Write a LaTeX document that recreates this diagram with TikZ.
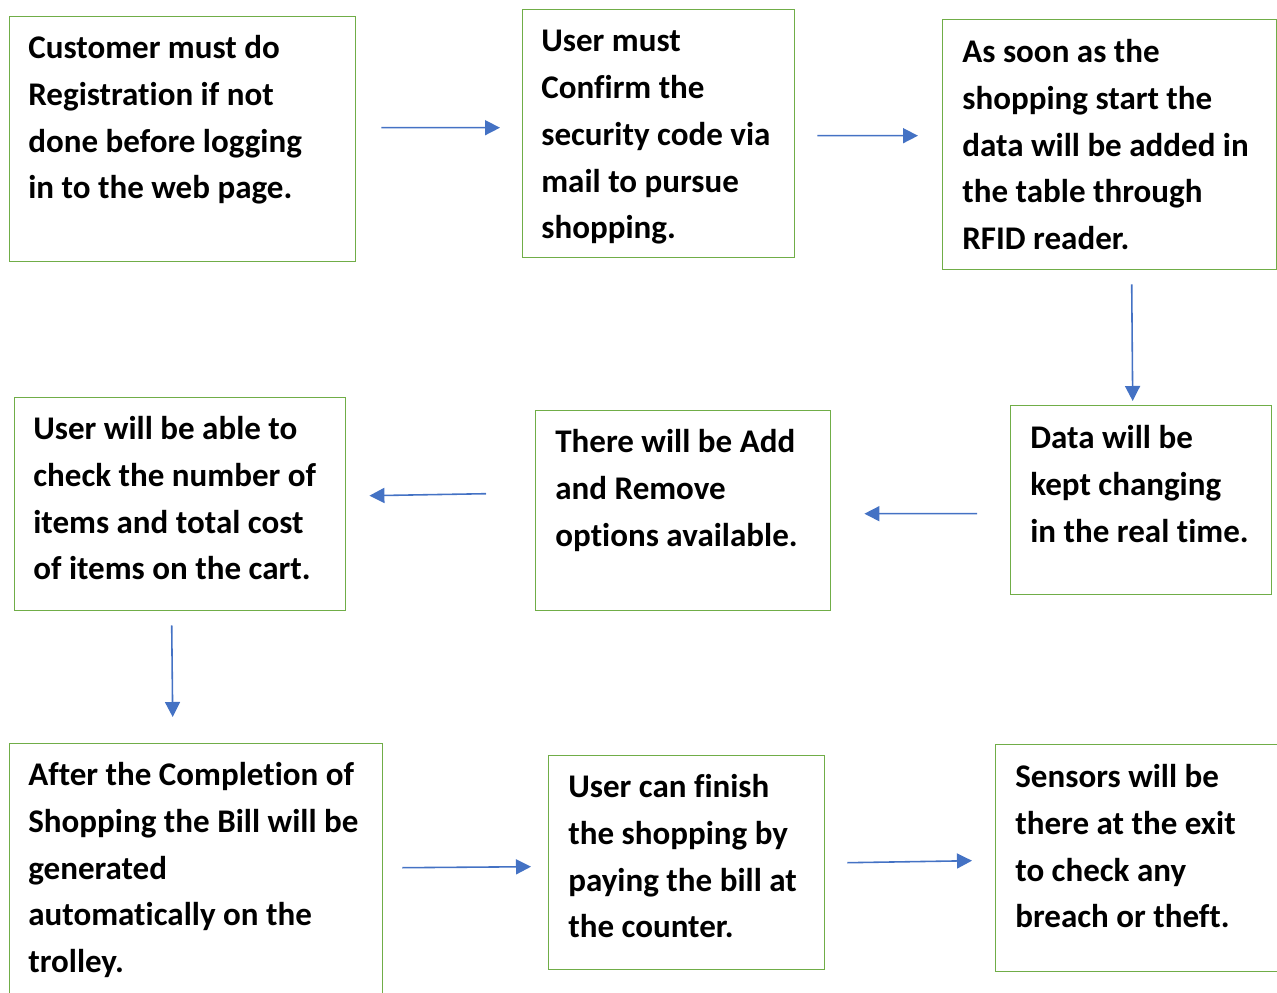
\documentclass[tikz,border=0pt]{standalone}
\usepackage{fontspec}
\setmainfont{Carlito}[Ligatures=NoCommon]
\usepackage{xcolor}
\usetikzlibrary{arrows.meta, positioning}

\definecolor{boxgreen}{HTML}{70AD47}
\definecolor{flowblue}{HTML}{4472C4}

\begin{document}
\begin{tikzpicture}[
    box/.style={rectangle, draw=boxgreen, line width=0.8pt, anchor=north west, inner sep=0pt},
    txt/.style={anchor=north west, inner sep=0pt, align=left,
        font={\fontsize{18.8pt}{26.6pt}\selectfont\bfseries}},
    flow/.style={draw=flowblue, line width=0.9pt, -{Triangle[length=0.30cm, width=0.30cm]}}
]
    \useasboundingbox (0,0) rectangle (25.54,-19.86);
    \clip (0,0) rectangle (25.54,-19.86);

    % first row
    \node[box, minimum width=6.92cm, minimum height=4.90cm] (reg) at (0.18,-0.32) {};
    \node[txt] (regtxt) at (0.56,-0.70) {Customer must do\\Registration if not\\done before logging\\in to the web page.};
    \node[box, minimum width=5.44cm, minimum height=4.96cm] (conf) at (10.44,-0.18) {};
    \node[txt] (conftxt) at (10.82,-0.60) {User must\\Confirm the\\security code via\\mail to pursue\\shopping.};
    \node[box, minimum width=6.68cm, minimum height=5.00cm] (rfid) at (18.84,-0.38) {};
    \node[txt] (rfidtxt) at (19.24,-0.78) {As soon as the\\shopping start the\\data will be added in\\the table through\\RFID reader.};

    % second row
    \node[box, minimum width=5.22cm, minimum height=3.78cm] (live) at (20.20,-8.10) {};
    \node[txt] (livetxt) at (20.60,-8.50) {Data will be\\kept changing\\in the real time.};
    \node[box, minimum width=5.90cm, minimum height=4.00cm] (edit) at (10.70,-8.20) {};
    \node[txt] (edittxt) at (11.10,-8.58) {There will be Add\\and Remove\\options available.};
    \node[box, minimum width=6.62cm, minimum height=4.26cm] (cost) at (0.28,-7.94) {};
    \node[txt] (costtxt) at (0.66,-8.32) {User will be able to\\check the number of\\items and total cost\\of items on the cart.};

    % third row
    \node[box, minimum width=7.46cm, minimum height=5.14cm] (bill) at (0.18,-14.86) {};
    \node[txt] (billtxt) at (0.56,-15.24) {After the Completion of\\Shopping the Bill will be\\generated\\automatically on the\\trolley.};
    \node[box, minimum width=5.52cm, minimum height=4.28cm] (pay) at (10.96,-15.10) {};
    \node[txt] (paytxt) at (11.36,-15.48) {User can finish\\the shopping by\\paying the bill at\\the counter.};
    \node[box, minimum width=5.90cm, minimum height=4.54cm] (exit) at (19.90,-14.88) {};
    \node[txt] (exittxt) at (20.30,-15.28) {Sensors will be\\there at the exit\\to check any\\breach or theft.};

    \draw[flow] ([xshift=0.50cm, yshift=0.23cm]reg.east) -- ([xshift=-0.44cm, yshift=0.12cm]conf.west);
    \draw[flow] ([xshift=0.44cm, yshift=-0.04cm]conf.east) -- ([xshift=-0.48cm, yshift=0.18cm]rfid.west);
    \draw[flow] ([xshift=0.44cm, yshift=-0.28cm]rfid.south) -- ([xshift=-0.17cm, yshift=0.08cm]live.north);
    \draw[flow] ([xshift=-0.66cm, yshift=-0.27cm]live.west) -- ([xshift=0.66cm, yshift=-0.06cm]edit.east);
    \draw[flow] ([xshift=-0.98cm, yshift=0.34cm]edit.west) -- ([xshift=0.46cm, yshift=0.17cm]cost.east);
    \draw[flow] ([xshift=-0.17cm, yshift=-0.28cm]cost.south) -- ([xshift=-0.47cm, yshift=0.52cm]bill.north);
    \draw[flow] ([xshift=0.38cm, yshift=0.09cm]bill.east) -- ([xshift=-0.34cm, yshift=-0.08cm]pay.west);
    \draw[flow] ([xshift=0.44cm]pay.east) -- ([xshift=-0.46cm, yshift=-0.05cm]exit.west);
\end{tikzpicture}
\end{document}
